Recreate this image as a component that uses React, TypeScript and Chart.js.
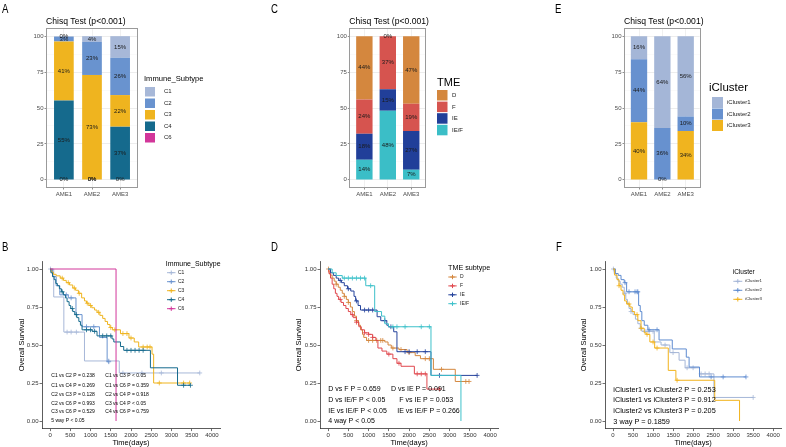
import React, { useEffect, useRef } from 'react';
import { Chart, registerables } from 'chart.js';

Chart.register(...registerables);

const FONT = "'Liberation Sans', Arial, Helvetica, sans-serif";
Chart.defaults.font.family = FONT;

// ---------------- Bar chart data (A, C, E) ----------------
const ameCategories = ['AME1', 'AME2', 'AME3'];
const barMajorTicks = [0, 25, 50, 75, 100];
const barGridTicks = [0, 12.5, 25, 37.5, 50, 62.5, 75, 87.5, 100];
const barTitle = 'Chisq Test (p<0.001)';

const immuneNames = ['C1', 'C2', 'C3', 'C4', 'C6'];
const immuneColors = ['#a7b8d8', '#6993cf', '#efb41f', '#156a8d', '#d2369a'];
const immuneC1 = [0.4, 4, 15];
const immuneC2 = [3.3, 23, 26];
const immuneC3 = [41, 73, 22];
const immuneC4 = [55, 0, 37];
const immuneC6 = [0.3, 0, 0];

const tmeNames = ['D', 'F', 'IE', 'IE/F'];
const tmeColors = ['#d4873e', '#d6544f', '#213f99', '#3bbec7'];
const tmeD = [44, 0, 47];
const tmeF = [24, 37, 19];
const tmeIE = [18, 15, 27];
const tmeIEF = [14, 48, 7];

const iclNames = ['iCluster1', 'iCluster2', 'iCluster3'];
const iclColors = ['#a4b6d7', '#6791cf', '#f0b41f'];
const icl1 = [16, 64, 56];
const icl2 = [44, 36, 10];
const icl3 = [40, 0, 34];

// ---------------- Survival data (B, D, F) ----------------
const kmTimeTicks = [0, 500, 1000, 1500, 2000, 2500, 3000, 3500, 4000];
const kmSurvTicks = [0, 0.25, 0.5, 0.75, 1];

// B: Immune subtype
const bC1Times = [0, 90, 340, 850, 1710];
const bC1Surv = [1, 0.816, 0.585, 0.395, 0.316];
const bC1Censor = [10, 420, 520, 650, 1450, 1800, 2270, 2750, 3700];

const bC2Times = [0, 60, 150, 240, 450, 640, 790, 1220, 1410];
const bC2Surv = [1, 0.95, 0.89, 0.83, 0.81, 0.7, 0.62, 0.55, 0.39];
const bC2Censor = [400, 520, 900, 1080, 1450];

const bC3Times = [0, 30, 80, 150, 250, 330, 400, 480, 560, 630, 700, 780, 850, 900, 960, 1030, 1100, 1160, 1230, 1300, 1360, 1420, 1480, 1540, 1740, 1950, 2080, 2190, 2520, 2560];
const bC3Surv = [1, 0.98, 0.965, 0.955, 0.94, 0.925, 0.91, 0.895, 0.875, 0.86, 0.84, 0.81, 0.79, 0.775, 0.76, 0.745, 0.73, 0.715, 0.695, 0.675, 0.655, 0.635, 0.615, 0.6, 0.575, 0.546, 0.52, 0.487, 0.44, 0.25];
const bC3Censor = [300, 450, 600, 720, 920, 1000, 1200, 1500, 1600, 1800, 1900, 2000, 2300, 2400, 2470, 2700, 3300, 3450];

const bC4Times = [0, 20, 60, 100, 140, 180, 230, 280, 330, 380, 420, 470, 510, 560, 610, 660, 710, 750, 790, 1040, 1160, 1530, 1575, 1740, 1820, 2480, 3150];
const bC4Surv = [1, 0.975, 0.95, 0.93, 0.905, 0.89, 0.87, 0.85, 0.83, 0.81, 0.785, 0.76, 0.74, 0.72, 0.7, 0.68, 0.655, 0.63, 0.6, 0.59, 0.56, 0.54, 0.52, 0.49, 0.465, 0.35, 0.235];
const bC4Censor = [300, 550, 650, 900, 1000, 1100, 1300, 1400, 1500, 1900, 2000, 2100, 2200, 2300, 3300, 3470];

const bC6Times = [0, 1630];
const bC6Surv = [1, 0];
const bC6Censor: number[] = [];

// D: TME subtype
const dDTimes = [0, 20, 50, 100, 150, 200, 250, 300, 350, 400, 450, 500, 550, 600, 650, 700, 750, 800, 850, 880, 950, 1400, 1480, 1560, 1750, 1950, 2150, 2280, 2600, 3140];
const dDSurv = [1, 0.98, 0.96, 0.94, 0.92, 0.9, 0.88, 0.86, 0.84, 0.82, 0.8, 0.78, 0.75, 0.72, 0.69, 0.66, 0.63, 0.6, 0.57, 0.55, 0.53, 0.52, 0.5, 0.48, 0.47, 0.45, 0.43, 0.41, 0.34, 0.26];
const dDCensor = [10, 200, 400, 500, 700, 1000, 1100, 1200, 1300, 1350, 1600, 1800, 2000, 2400, 2500, 2800, 3400, 3480];

const dFTimes = [0, 20, 60, 100, 140, 180, 220, 260, 320, 380, 440, 500, 560, 620, 700, 760, 820, 900, 1000, 1100, 1180, 1230, 1330, 1450, 1600, 1700, 1800, 2130, 2440];
const dFSurv = [1, 0.97, 0.94, 0.9, 0.87, 0.84, 0.82, 0.8, 0.78, 0.76, 0.74, 0.72, 0.7, 0.68, 0.65, 0.62, 0.6, 0.58, 0.57, 0.55, 0.53, 0.48, 0.46, 0.44, 0.41, 0.38, 0.36, 0.31, 0.21];
const dFCensor = [300, 600, 700, 900, 1000, 1100, 1500, 1750, 2200, 2300, 2400, 2750];

const dIETimes = [0, 60, 130, 200, 260, 330, 400, 480, 560, 640, 680, 740, 800, 1210, 1300, 1450, 1490, 1620, 1700, 2540];
const dIESurv = [1, 0.975, 0.958, 0.94, 0.925, 0.91, 0.89, 0.87, 0.855, 0.82, 0.79, 0.76, 0.73, 0.686, 0.66, 0.63, 0.62, 0.587, 0.456, 0.3];
const dIECensor = [300, 500, 700, 900, 1000, 1100, 1400, 1550, 1900, 2000, 2200, 2400, 2750, 3680];

const dIEFTimes = [0, 100, 200, 350, 930, 1150, 1320, 1400, 1490, 2540, 3280];
const dIEFSurv = [1, 0.975, 0.957, 0.94, 0.89, 0.72, 0.69, 0.64, 0.62, 0.3, 0];
const dIEFCensor = [400, 500, 600, 700, 800, 900, 1050, 1600, 1700, 1900, 2300, 2500];

// F: iCluster
const fI1Times = [0, 30, 80, 130, 180, 230, 280, 320, 360, 400, 450, 500, 560, 620, 680, 720, 1030, 1200, 1420, 1650, 1800, 2160, 2520];
const fI1Surv = [1, 0.97, 0.94, 0.92, 0.9, 0.88, 0.84, 0.8, 0.77, 0.74, 0.72, 0.7, 0.67, 0.64, 0.61, 0.59, 0.52, 0.5, 0.45, 0.4, 0.35, 0.31, 0.155];
const fI1Censor = [10, 300, 450, 700, 800, 900, 1000, 1300, 1500, 1850, 2000, 2200, 2300, 2400, 3500];

const fI2Times = [0, 60, 130, 200, 280, 340, 640, 680, 720, 780, 870, 1150, 1480, 1830, 1900, 2160];
const fI2Surv = [1, 0.97, 0.958, 0.93, 0.91, 0.85, 0.76, 0.72, 0.66, 0.63, 0.6, 0.533, 0.474, 0.42, 0.355, 0.29];
const fI2Censor = [300, 400, 550, 600, 620, 900, 1100, 2450, 2750, 3320];

const fI3Times = [0, 40, 100, 150, 200, 250, 290, 340, 420, 480, 540, 620, 700, 780, 830, 920, 1040, 1380, 1570, 2540, 3160];
const fI3Surv = [1, 0.96, 0.93, 0.89, 0.86, 0.83, 0.79, 0.77, 0.75, 0.72, 0.7, 0.66, 0.61, 0.58, 0.57, 0.52, 0.48, 0.333, 0.268, 0.136, 0];
const fI3Censor = [150, 400, 600, 700, 850, 1000, 1100, 1600];

// ---------------- helpers ----------------
type Curve = { name: string; color: string; times: number[]; surv: number[]; censor: number[] };

function survAt(c: Curve, t: number) {
  let s = 1;
  for (let i = 0; i < c.times.length; i++) if (c.times[i] <= t) s = c.surv[i];
  return s;
}

type BarLegend = { titleX: number; titleY: number; titleSize: number; keyX: number; keyW: number; keyH: number; keyTop: number; step: number; labelX: number; labelSize: number };
type BarSpec = {
  left: number; top: number; w: number; h: number;
  area: { l: number; r: number; t: number; b: number };
  names: string[]; colors: string[]; series: number[][];
  legendTitle: string; legend: BarLegend;
};

function BarPanel({ spec }: { spec: BarSpec }) {
  const ref = useRef<HTMLCanvasElement>(null);
  useEffect(() => {
    const s = spec;
    const yW = 20;
    const xH = 12;
    const isMajor = (v: number) => barMajorTicks.includes(v);
    const deco = {
      id: 'barDeco',
      afterDatasetsDraw(chart: any) {
        const ctx = chart.ctx;
        ctx.save();
        ctx.font = `6px ${FONT}`;
        ctx.fillStyle = '#1a1a1a';
        ctx.textAlign = 'center';
        ctx.textBaseline = 'middle';
        chart.data.datasets.forEach((ds: any, di: number) => {
          const meta = chart.getDatasetMeta(di);
          meta.data.forEach((el: any, i: number) => {
            const v = ds.data[i].y;
            ctx.fillText(`${Math.round(v)}%`, el.x, (el.y + el.base) / 2);
          });
        });
        ctx.restore();
      },
      afterDraw(chart: any) {
        const ctx = chart.ctx;
        const ca = chart.chartArea;
        ctx.save();
        ctx.strokeStyle = '#9a9a9a';
        ctx.lineWidth = 1;
        ctx.strokeRect(Math.round(ca.left) - 0.5, Math.round(ca.top) - 0.5, Math.round(ca.right - ca.left) + 1, Math.round(ca.bottom - ca.top) + 1);
        ctx.fillStyle = '#000';
        ctx.font = `8.6px ${FONT}`;
        ctx.textAlign = 'left';
        ctx.textBaseline = 'middle';
        ctx.fillText(barTitle, ca.left - 1, 21.7);
        const L = s.legend;
        ctx.font = `${L.titleSize}px ${FONT}`;
        ctx.fillText(s.legendTitle, L.titleX, L.titleY);
        ctx.font = `${L.labelSize}px ${FONT}`;
        s.names.forEach((n, i) => {
          const y = L.keyTop + i * L.step;
          ctx.fillStyle = s.colors[i];
          ctx.fillRect(L.keyX, y, L.keyW, L.keyH);
          ctx.fillStyle = '#1a1a1a';
          ctx.fillText(n, L.labelX, y + L.keyH / 2);
        });
        ctx.restore();
      },
    };
    const datasets = s.names
      .map((n, i) => ({
        label: n,
        data: ameCategories.map((c, k) => ({ x: k + 1, y: s.series[i][k] })),
        backgroundColor: s.colors[i],
        borderWidth: 0,
        barPercentage: 0.7,
        categoryPercentage: 1,
      }))
      .reverse();
    const chart = new Chart(ref.current as HTMLCanvasElement, {
      type: 'bar',
      data: { datasets } as any,
      options: {
        animation: false,
        responsive: false,
        devicePixelRatio: 1,
        layout: { padding: { left: s.area.l - yW, right: s.w - s.area.r, top: s.area.t, bottom: s.h - s.area.b - xH } },
        plugins: { legend: { display: false }, tooltip: { enabled: false } },
        scales: {
          x: {
            type: 'linear', stacked: true, min: 0.4, max: 3.6, offset: false,
            afterBuildTicks: (sc: any) => { sc.ticks = ameCategories.map((c, k) => ({ value: k + 1 })); },
            afterFit: (sc: any) => { sc.height = xH; },
            ticks: { callback: (v: any) => ameCategories[Number(v) - 1] ?? '', font: { size: 6 }, color: '#4d4d4d', padding: 1, autoSkip: false, maxRotation: 0 },
            grid: { offset: false, color: '#ececec', lineWidth: 0.8, tickLength: 2.5, tickColor: '#444', tickWidth: 0.6 },
            border: { display: false },
          },
          y: {
            type: 'linear', stacked: true, min: -5, max: 105,
            afterBuildTicks: (sc: any) => { sc.ticks = barGridTicks.map((v) => ({ value: v })); },
            afterFit: (sc: any) => { sc.width = yW; },
            ticks: { callback: (v: any) => (isMajor(Number(v)) ? String(v) : ''), font: { size: 6 }, color: '#4d4d4d', padding: 1, autoSkip: false },
            grid: {
              color: (c: any) => (c.tick && isMajor(c.tick.value) ? '#e8e8e8' : '#f4f4f4'),
              lineWidth: (c: any) => (c.tick && isMajor(c.tick.value) ? 0.8 : 0.5),
              tickLength: 2.5,
              tickColor: (c: any) => (c.tick && isMajor(c.tick.value) ? '#444' : 'rgba(0,0,0,0)'),
              tickWidth: 0.6,
            },
            border: { display: false },
          },
        },
      } as any,
      plugins: [deco],
    });
    return () => chart.destroy();
  }, []);
  return (
    <canvas ref={ref} width={spec.w} height={spec.h} style={{ position: 'absolute', left: spec.left, top: spec.top, width: spec.w, height: spec.h }} />
  );
}

type KMLegend = { titleX: number; titleY: number; titleSize: number; symX1: number; symX2: number; rowY: number; step: number; labelX: number; labelSize: number };
type KMSpec = {
  left: number; top: number; w: number; h: number;
  area: { l: number; r: number; t: number; b: number };
  curves: Curve[];
  legendTitle: string; legend: KMLegend;
  yTitleX: number;
  notes: string[][]; noteX: number[][]; noteY: number[]; noteSize: number;
};

function KMPanel({ spec }: { spec: KMSpec }) {
  const ref = useRef<HTMLCanvasElement>(null);
  useEffect(() => {
    const s = spec;
    const yW = 18;
    const xH = 12;
    const deco = {
      id: 'kmDeco',
      afterDraw(chart: any) {
        const ctx = chart.ctx;
        const ca = chart.chartArea;
        ctx.save();
        ctx.fillStyle = '#000';
        ctx.textBaseline = 'middle';
        ctx.textAlign = 'center';
        ctx.font = `7.5px ${FONT}`;
        ctx.fillText('Time(days)', (ca.left + ca.right) / 2, 242.7);
        ctx.save();
        ctx.translate(s.yTitleX, (ca.top + ca.bottom) / 2);
        ctx.rotate(-Math.PI / 2);
        ctx.fillText('Overall Survival', 0, 0);
        ctx.restore();
        // legend
        const L = s.legend;
        ctx.textAlign = 'left';
        ctx.font = `${L.titleSize}px ${FONT}`;
        ctx.fillText(s.legendTitle, L.titleX, L.titleY);
        ctx.font = `${L.labelSize}px ${FONT}`;
        s.curves.forEach((c, i) => {
          const y = L.rowY + i * L.step;
          ctx.strokeStyle = c.color;
          ctx.lineWidth = 1;
          ctx.beginPath();
          ctx.moveTo(L.symX1, y);
          ctx.lineTo(L.symX2, y);
          const cx = (L.symX1 + L.symX2) / 2;
          ctx.moveTo(cx - 2.2, y);
          ctx.lineTo(cx + 2.2, y);
          ctx.moveTo(cx, y - 2.2);
          ctx.lineTo(cx, y + 2.2);
          ctx.stroke();
          ctx.fillStyle = '#1a1a1a';
          ctx.fillText(c.name, L.labelX, y);
        });
        // p-value notes
        ctx.fillStyle = '#000';
        ctx.font = `${s.noteSize}px ${FONT}`;
        s.notes.forEach((row, r) => {
          row.forEach((txt, j) => ctx.fillText(txt, s.noteX[r][j], s.noteY[r]));
        });
        ctx.restore();
      },
    };
    const datasets: any[] = [];
    s.curves.forEach((c, ci) => {
      const lastT = c.times[c.times.length - 1];
      const end = Math.max(lastT, ...c.censor);
      const pts = c.times.map((t, i) => ({ x: t, y: c.surv[i] }));
      if (end > lastT) pts.push({ x: end, y: c.surv[c.surv.length - 1] });
      datasets.push({
        label: c.name, data: pts, stepped: true, borderColor: c.color, borderWidth: 1,
        pointRadius: 0, fill: false, tension: 0, order: s.curves.length - ci,
      });
      datasets.push({
        label: c.name + ' censor', data: c.censor.map((t) => ({ x: t, y: survAt(c, t) })),
        showLine: false, pointStyle: 'cross', pointRadius: 2.4, pointBorderWidth: 0.8,
        borderColor: c.color, backgroundColor: c.color, order: s.curves.length - ci,
      });
    });
    const axisCommon = {
      grid: { drawOnChartArea: false, tickLength: 2.5, tickColor: '#333', tickWidth: 0.7 },
      border: { display: true, color: '#333', width: 0.8 },
    };
    const chart = new Chart(ref.current as HTMLCanvasElement, {
      type: 'line',
      data: { datasets },
      options: {
        animation: false,
        responsive: false,
        devicePixelRatio: 1,
        layout: { padding: { left: s.area.l - yW, right: s.w - s.area.r, top: s.area.t, bottom: s.h - s.area.b - xH } },
        plugins: { legend: { display: false }, tooltip: { enabled: false } },
        scales: {
          x: {
            type: 'linear', min: -200, max: 4200,
            afterBuildTicks: (sc: any) => { sc.ticks = kmTimeTicks.map((v) => ({ value: v })); },
            afterFit: (sc: any) => { sc.height = xH; },
            ticks: { callback: (v: any) => String(v), font: { size: 6 }, color: '#333', padding: 1, autoSkip: false, maxRotation: 0 },
            ...axisCommon,
          },
          y: {
            type: 'linear', min: -0.05, max: 1.05,
            afterBuildTicks: (sc: any) => { sc.ticks = kmSurvTicks.map((v) => ({ value: v })); },
            afterFit: (sc: any) => { sc.width = yW; },
            ticks: { callback: (v: any) => Number(v).toFixed(2), font: { size: 6 }, color: '#333', padding: 1, autoSkip: false },
            ...axisCommon,
          },
        },
      } as any,
      plugins: [deco],
    });
    return () => chart.destroy();
  }, []);
  return (
    <canvas ref={ref} width={spec.w} height={spec.h} style={{ position: 'absolute', left: spec.left, top: spec.top, width: spec.w, height: spec.h }} />
  );
}

// ---------------- panel specs ----------------
const barTop = 29;
const barBottom = 187;

const specA: BarSpec = {
  left: 0, top: 0, w: 262, h: 200,
  area: { l: 47, r: 137, t: barTop, b: barBottom },
  names: immuneNames, colors: immuneColors,
  series: [immuneC1, immuneC2, immuneC3, immuneC4, immuneC6],
  legendTitle: 'Immune_Subtype',
  legend: { titleX: 144, titleY: 79, titleSize: 7.6, keyX: 145, keyW: 10, keyH: 9.5, keyTop: 87, step: 11.5, labelX: 164, labelSize: 6 },
};
const specC: BarSpec = {
  left: 262, top: 0, w: 262, h: 200,
  area: { l: 88.3, r: 163.3, t: barTop, b: barBottom },
  names: tmeNames, colors: tmeColors,
  series: [tmeD, tmeF, tmeIE, tmeIEF],
  legendTitle: 'TME',
  legend: { titleX: 175, titleY: 83, titleSize: 11, keyX: 175, keyW: 10.5, keyH: 10.5, keyTop: 90, step: 11.6, labelX: 190, labelSize: 6 },
};
const specE: BarSpec = {
  left: 524, top: 0, w: 262, h: 200,
  area: { l: 101, r: 175.7, t: barTop, b: barBottom },
  names: iclNames, colors: iclColors,
  series: [icl1, icl2, icl3],
  legendTitle: 'iCluster',
  legend: { titleX: 185, titleY: 88, titleSize: 11.5, keyX: 188, keyW: 11, keyH: 11, keyTop: 97, step: 11.5, labelX: 203, labelSize: 6 },
};

const kmTop = 61.4;
const kmBottom = 228.6;

const specB: KMSpec = {
  left: 0, top: 200, w: 262, h: 247,
  area: { l: 42, r: 220, t: kmTop, b: kmBottom },
  curves: [
    { name: 'C1', color: '#a7b8d8', times: bC1Times, surv: bC1Surv, censor: bC1Censor },
    { name: 'C2', color: '#6993cf', times: bC2Times, surv: bC2Surv, censor: bC2Censor },
    { name: 'C3', color: '#efb41f', times: bC3Times, surv: bC3Surv, censor: bC3Censor },
    { name: 'C4', color: '#156a8d', times: bC4Times, surv: bC4Surv, censor: bC4Censor },
    { name: 'C6', color: '#d2369a', times: bC6Times, surv: bC6Surv, censor: bC6Censor },
  ],
  legendTitle: 'Immune_Subtype',
  legend: { titleX: 165.7, titleY: 63.7, titleSize: 7, symX1: 167, symX2: 175.5, rowY: 72.7, step: 9, labelX: 178, labelSize: 5 },
  yTitleX: 21.7,
  notes: [
    ['C1 vs C2 P = 0.238', 'C1 vs C3 P < 0.05'],
    ['C1 vs C4 P = 0.269', 'C1 vs C6 P = 0.359'],
    ['C2 vs C3 P = 0.128', 'C2 vs C4 P = 0.918'],
    ['C2 vs C6 P = 0.993', 'C3 vs C4 P < 0.05'],
    ['C3 vs C6 P = 0.529', 'C4 vs C6 P = 0.759'],
    ['5 way P < 0.05'],
  ],
  noteX: [[51.3, 105.3], [51.3, 105.3], [51.3, 105.3], [51.3, 105.3], [51.3, 105.3], [51.3]],
  noteY: [176, 186, 194.7, 203.3, 212, 221],
  noteSize: 5,
};

const specD: KMSpec = {
  left: 262, top: 200, w: 262, h: 247,
  area: { l: 58, r: 236.2, t: kmTop, b: kmBottom },
  curves: [
    { name: 'D', color: '#d4873e', times: dDTimes, surv: dDSurv, censor: dDCensor },
    { name: 'F', color: '#e0474d', times: dFTimes, surv: dFSurv, censor: dFCensor },
    { name: 'IE', color: '#25439c', times: dIETimes, surv: dIESurv, censor: dIECensor },
    { name: 'IE/F', color: '#3ec1ca', times: dIEFTimes, surv: dIEFSurv, censor: dIEFCensor },
  ],
  legendTitle: 'TME subtype',
  legend: { titleX: 186, titleY: 68, titleSize: 7.2, symX1: 186.3, symX2: 194.7, rowY: 77, step: 8.9, labelX: 198, labelSize: 5 },
  yTitleX: 36.7,
  notes: [
    ['D vs F P = 0.659', 'D vs IE P = 0.091'],
    ['D vs IE/F P < 0.05', 'F vs IE P = 0.053'],
    ['IE vs IE/F P < 0.05', 'IE vs IE/F P = 0.266'],
    ['4 way P < 0.05'],
  ],
  noteX: [[66.3, 129], [66.3, 137.3], [66.3, 135.3], [66.3]],
  noteY: [189.3, 200.3, 211, 221.3],
  noteSize: 7,
};

const specF: KMSpec = {
  left: 524, top: 200, w: 262, h: 247,
  area: { l: 81, r: 260.2, t: kmTop, b: kmBottom },
  curves: [
    { name: 'iCluster1', color: '#a4b6d7', times: fI1Times, surv: fI1Surv, censor: fI1Censor },
    { name: 'iCluster2', color: '#5f8cd0', times: fI2Times, surv: fI2Surv, censor: fI2Censor },
    { name: 'iCluster3', color: '#f2b31c', times: fI3Times, surv: fI3Surv, censor: fI3Censor },
  ],
  legendTitle: 'iCluster',
  legend: { titleX: 208.7, titleY: 72, titleSize: 6.5, symX1: 209.3, symX2: 218.3, rowY: 81.3, step: 9, labelX: 221, labelSize: 4.3 },
  yTitleX: 60,
  notes: [
    ['iCluster1 vs iCluster2 P = 0.253'],
    ['iCluster1 vs iCluster3 P = 0.912'],
    ['iCluster2 vs iCluster3 P = 0.205'],
    ['3 way P = 0.1859'],
  ],
  noteX: [[89.3], [89.3], [89.3], [89.3]],
  noteY: [189.5, 200.2, 210.9, 221.6],
  noteSize: 7.3,
};

const panelLetters = [
  { t: 'A', x: 2, y: 2.8 },
  { t: 'C', x: 271, y: 2.8 },
  { t: 'E', x: 555, y: 2.8 },
  { t: 'B', x: 2, y: 240.5 },
  { t: 'D', x: 271, y: 240.5 },
  { t: 'F', x: 555.5, y: 240.5 },
];

export default function App() {
  return (
    <div style={{ position: 'fixed', left: 0, top: 0, width: 786, height: 447, background: '#ffffff', overflow: 'hidden' }}>
      <BarPanel spec={specA} />
      <BarPanel spec={specC} />
      <BarPanel spec={specE} />
      <KMPanel spec={specB} />
      <KMPanel spec={specD} />
      <KMPanel spec={specF} />
      {panelLetters.map((p) => (
        <div
          key={p.t}
          style={{ position: 'absolute', left: p.x, top: p.y, fontFamily: FONT, fontSize: 12, lineHeight: '12px', color: '#000', transform: 'scaleX(0.8)', transformOrigin: 'left top' }}
        >
          {p.t}
        </div>
      ))}
    </div>
  );
}
